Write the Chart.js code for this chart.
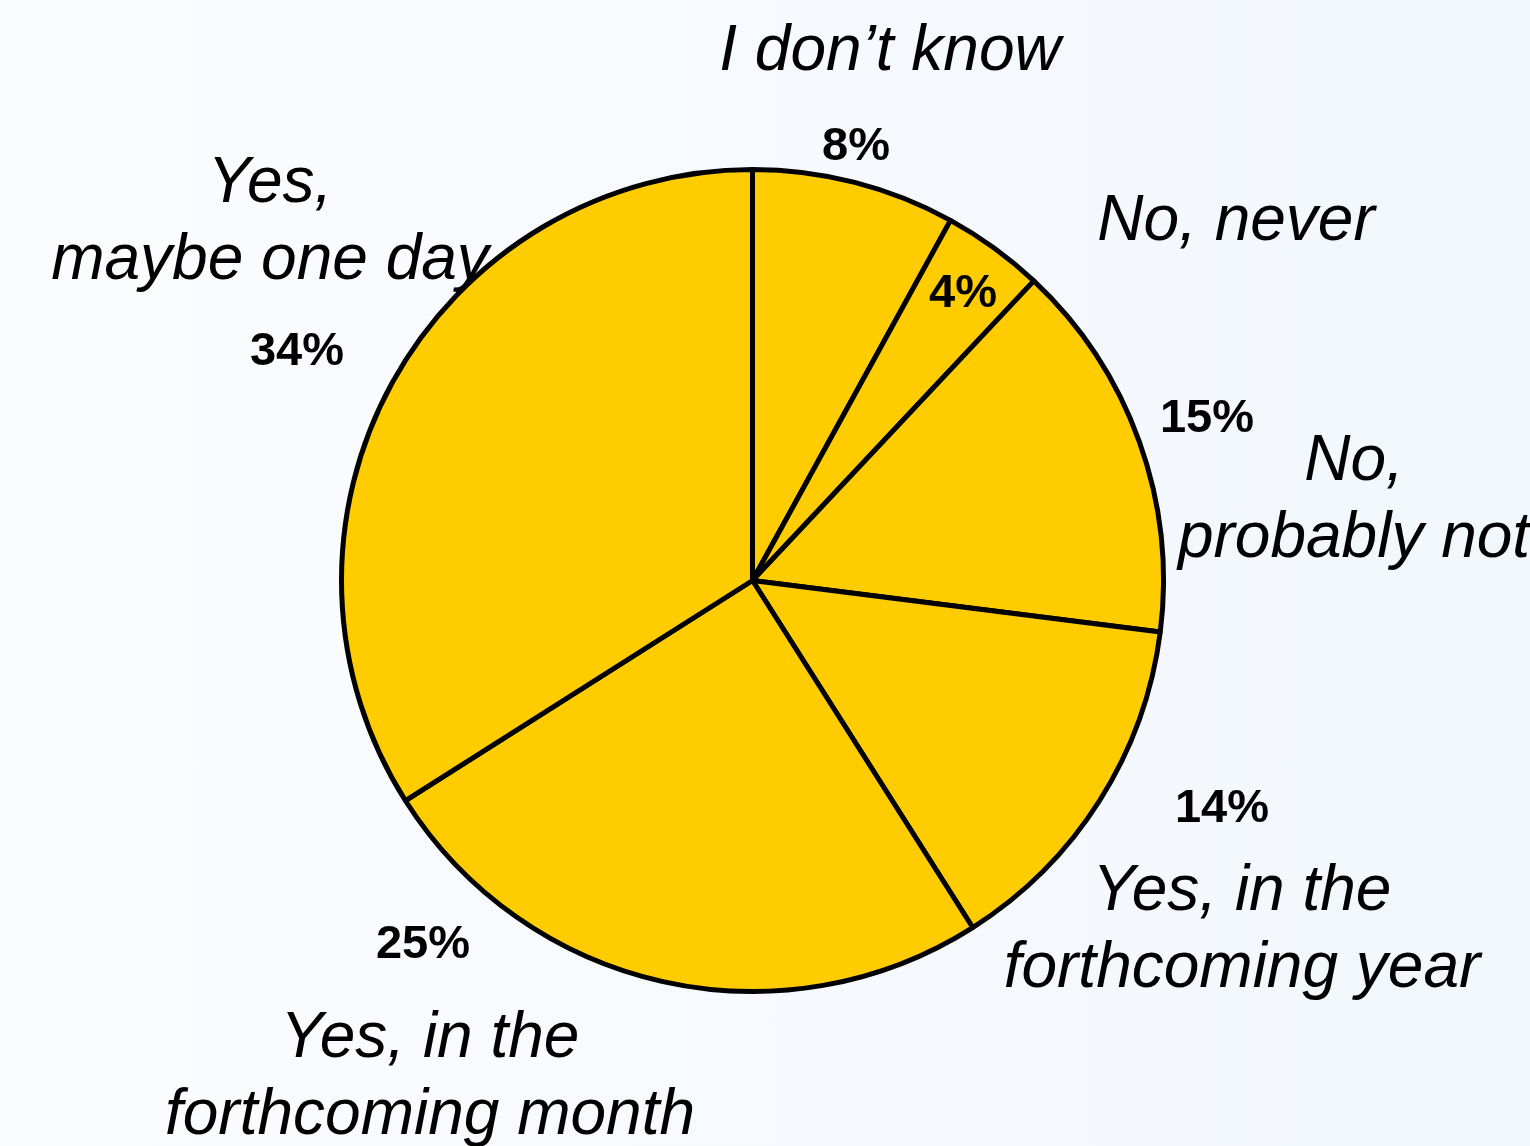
<!DOCTYPE html>
<html>
<head>
<meta charset="utf-8">
<script src="https://cdn.jsdelivr.net/npm/chart.js@4.4.1/dist/chart.umd.min.js"></script>
<style>
  html, body { margin: 0; padding: 0; }
  body {
    width: 1530px; height: 1146px; overflow: hidden;
    background: linear-gradient(to right, #fbfcfe 0%, #f6f9fd 55%, #f2f7fc 100%);
  }
  #wrap { position: relative; width: 1530px; height: 1146px; }
</style>
</head>
<body>
<div id="wrap"><canvas id="pie" width="1530" height="1146"></canvas></div>
<script>
// Slices, clockwise from 12 o'clock
const categories = [
  ["I don\u2019t know"],
  ["No, never"],
  ["No,", "probably not"],
  ["Yes, in the", "forthcoming year"],
  ["Yes, in the", "forthcoming month"],
  ["Yes,", "maybe one day"]
];
const shares = [8, 4, 15, 14, 25, 34];

// where each slice's name and percentage sit (text centre x, first baseline y)
const namePos = [[890, 70], [1236, 240], [1354, 480], [1242, 910], [430, 1057], [270, 202]];
const pctPos = [[856, 160], [963, 307], [1207, 432], [1222, 822], [423, 958], [297, 365]];

const labelPlugin = {
  id: 'sliceLabels',
  afterDatasetsDraw(chart) {
    const ctx = chart.ctx;
    const values = chart.data.datasets[0].data;
    ctx.save();
    ctx.fillStyle = '#000';
    ctx.textAlign = 'center';
    ctx.textBaseline = 'alphabetic';

    ctx.font = 'italic 64px "Liberation Sans", Arial, sans-serif';
    chart.data.labels.forEach((lines, i) => {
      lines.forEach((line, j) => {
        ctx.fillText(line, namePos[i][0], namePos[i][1] + j * 77);
      });
    });

    ctx.font = 'bold 47px "Liberation Sans", Arial, sans-serif';
    values.forEach((v, i) => {
      ctx.fillText(v + '%', pctPos[i][0], pctPos[i][1]);
    });
    ctx.restore();
  }
};

new Chart(document.getElementById('pie'), {
  type: 'pie',
  data: {
    labels: categories,
    datasets: [{
      data: shares,
      backgroundColor: '#ffcc00',
      borderColor: '#000',
      borderWidth: 5,
      hoverOffset: 0
    }]
  },
  options: {
    responsive: false,
    animation: false,
    radius: 411,
    layout: { padding: { left: 100, right: 125, top: 115, bottom: 100 } },
    plugins: {
      legend: { display: false },
      tooltip: { enabled: false }
    }
  },
  plugins: [labelPlugin]
});
</script>
</body>
</html>
